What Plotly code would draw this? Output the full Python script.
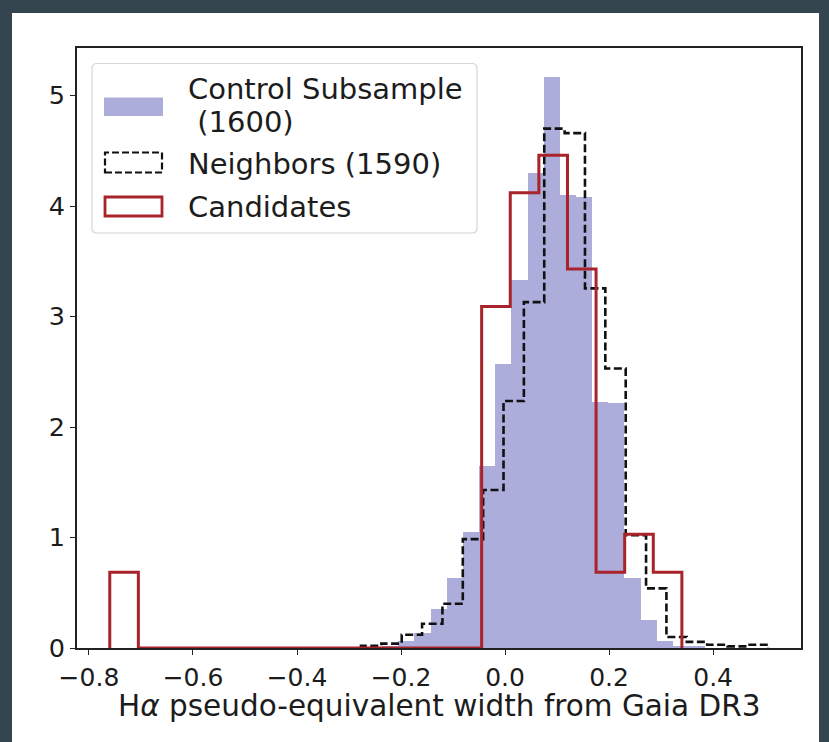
import numpy as np
import plotly.graph_objects as go

# ---- Histogram data (probability density per bin) ----
# Control subsample (1600 stars): filled histogram
ctrl_lo, ctrl_hi = -0.2363, 0.3849
ctrl_density = [0.02, 0.06, 0.14, 0.35, 0.63, 1.05, 1.645, 2.57, 3.33, 4.30,
                5.17, 4.10, 4.08, 2.23, 2.22, 0.63, 0.25, 0.06, 0.02, 0.02]

# Neighbors (1590 stars): dashed step outline
nb_lo, nb_hi = -0.277, 0.506
nb_density = [0.02, 0.04, 0.12, 0.22, 0.40, 0.985, 1.43, 2.235, 3.13, 4.70,
              4.66, 3.255, 2.53, 1.02, 0.54, 0.10, 0.055, 0.03, 0.015, 0.03]

# Candidates: solid red step outline
cand_lo, cand_hi = -0.76, 0.34
cand_density = [0.686, 0, 0, 0, 0, 0, 0, 0, 0, 0,
                0, 0, 0, 3.09, 4.12, 4.46, 3.43, 0.686, 1.03, 0.686]

legend_labels = ["Control Subsample", "\u00a0(1600)", "Neighbors (1590)", "Candidates"]
x_ticks = [-0.8, -0.6, -0.4, -0.2, 0.0, 0.2, 0.4]
y_ticks = [0, 1, 2, 3, 4, 5]
x_title = "H<i>α</i> pseudo-equivalent width from Gaia DR3"

# ---- Styling ----
CTRL_COLOR = "#adaddc"
CAND_COLOR = "#a8232a"
FRAME_BG = "#34454f"
TEXT_COLOR = "#1c1c1c"
FONT = "DejaVu Sans"

W, H = 829, 742
L, R, T, B = 77, 28, 48, 94
PW, PH = W - L - R, H - T - B


def fx(px):
    return (px - L) / PW


def fy(py):
    return (H - B - py) / PH


def step_xy(lo, hi, dens):
    edges = np.linspace(lo, hi, len(dens) + 1)
    xs = [edges[0]] + list(edges)
    ys = [0] + list(dens) + [0]
    return xs, ys


fig = go.Figure()

# filled control histogram
c_edges = np.linspace(ctrl_lo, ctrl_hi, len(ctrl_density) + 1)
fig.add_trace(go.Bar(
    x=(c_edges[:-1] + c_edges[1:]) / 2,
    y=ctrl_density,
    width=np.diff(c_edges),
    marker=dict(color=CTRL_COLOR, line=dict(width=0)),
    showlegend=False,
))

nx, ny = step_xy(nb_lo, nb_hi, nb_density)
fig.add_trace(go.Scatter(
    x=nx, y=ny, mode="lines", line_shape="hv",
    line=dict(color="#111111", width=2.6, dash="8px,3.5px"),
    showlegend=False,
))

cx, cy = step_xy(cand_lo, cand_hi, cand_density)
fig.add_trace(go.Scatter(
    x=cx, y=cy, mode="lines", line_shape="hv",
    line=dict(color=CAND_COLOR, width=3),
    showlegend=False,
))

shapes = []
# white card behind the axes
shapes.append(dict(type="rect", xref="paper", yref="paper",
                   x0=fx(12), x1=fx(819), y0=fy(742), y1=fy(13),
                   fillcolor="white", line=dict(width=0), layer="below"))


def rounded_box(x0, y0, x1, y1, r):
    # pixel coords -> paper path with small rounded corners
    ax0, ax1 = fx(x0), fx(x1)
    ay0, ay1 = fy(y0), fy(y1)
    rx, ry = r / PW, r / PH
    return (f"M {ax0+rx},{ay0} L {ax1-rx},{ay0} Q {ax1},{ay0} {ax1},{ay0-ry} "
            f"L {ax1},{ay1+ry} Q {ax1},{ay1} {ax1-rx},{ay1} "
            f"L {ax0+rx},{ay1} Q {ax0},{ay1} {ax0},{ay1+ry} "
            f"L {ax0},{ay0-ry} Q {ax0},{ay0} {ax0+rx},{ay0} Z")


# legend frame and handles
shapes.append(dict(type="path", xref="paper", yref="paper",
                   path=rounded_box(92, 63.5, 477, 233, 5),
                   fillcolor="rgba(255,255,255,0.85)",
                   line=dict(color="#d6d6d6", width=1.2)))
shapes.append(dict(type="rect", xref="paper", yref="paper",
                   x0=fx(104), x1=fx(163), y0=fy(116), y1=fy(97.5),
                   fillcolor=CTRL_COLOR, line=dict(width=0)))
shapes.append(dict(type="rect", xref="paper", yref="paper",
                   x0=fx(105), x1=fx(162), y0=fy(172.5), y1=fy(152.5),
                   fillcolor="white", line=dict(color="#111111", width=2.2, dash="7px,3px")))
shapes.append(dict(type="rect", xref="paper", yref="paper",
                   x0=fx(105), x1=fx(162), y0=fy(216), y1=fy(197),
                   fillcolor="white", line=dict(color=CAND_COLOR, width=2.8)))

annotations = []
for text, ypix in zip(legend_labels, [88.5, 121.5, 163.5, 206.5]):
    annotations.append(dict(text=text, xref="paper", yref="paper",
                            x=fx(186), y=fy(ypix), xanchor="left", yanchor="middle",
                            showarrow=False,
                            font=dict(family=FONT, size=29, color=TEXT_COLOR)))

# x-axis title, centred under the plot area
annotations.append(dict(text=x_title, xref="paper", yref="paper",
                        x=0.5, y=fy(706), xanchor="center", yanchor="middle",
                        showarrow=False,
                        font=dict(family=FONT, size=29.5, color=TEXT_COLOR)))

fig.update_layout(
    width=W, height=H,
    margin=dict(l=L, r=R, t=T, b=B, pad=0),
    paper_bgcolor=FRAME_BG,
    plot_bgcolor="white",
    barmode="overlay",
    bargap=0,
    shapes=shapes,
    annotations=annotations,
    font=dict(family=FONT, color=TEXT_COLOR),
    xaxis=dict(
        range=[-0.823, 0.569],
        tickvals=x_ticks, tickformat=".1f",
        ticks="outside", ticklen=5, tickwidth=1.3, tickcolor="#222",
        tickfont=dict(family=FONT, size=25, color=TEXT_COLOR),
        ticklabelstandoff=1,
        showline=True, linecolor="#222", linewidth=1.6, mirror=True,
        showgrid=False, zeroline=False,
    ),
    yaxis=dict(
        range=[0, 5.43],
        tickvals=y_ticks, tickformat="d",
        ticks="outside", ticklen=5, tickwidth=1.3, tickcolor="#222",
        tickfont=dict(family=FONT, size=25.5, color=TEXT_COLOR),
        showline=True, linecolor="#222", linewidth=1.6, mirror=True,
        showgrid=False, zeroline=False,
    ),
)

fig.write_html("out.html")
